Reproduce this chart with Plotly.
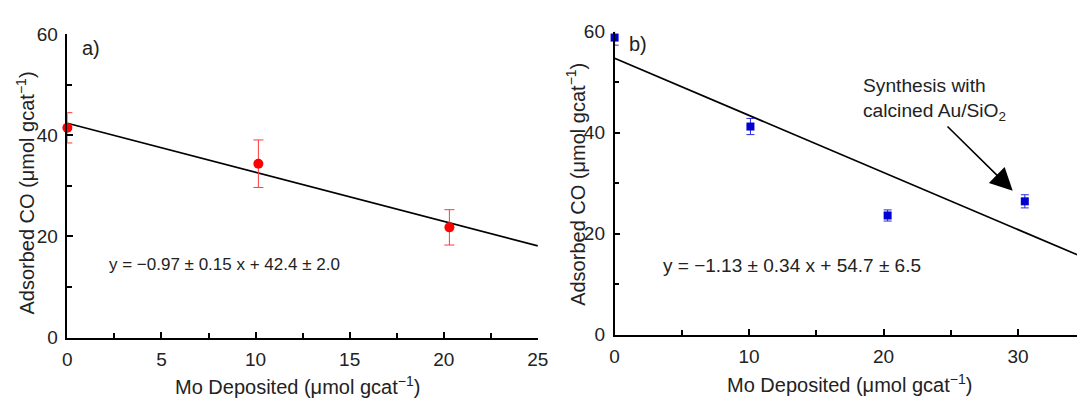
import plotly.graph_objects as go

# ---- data ----
mo_a = [0.0, 10.15, 20.3]
co_a = [41.5, 34.4, 21.8]
err_a = [3.0, 4.7, 3.5]
slope_a, icpt_a = -0.97, 42.4
fit_x_a = [0, 25]

mo_b = [0.0, 10.1, 20.3, 30.5]
co_b = [58.8, 41.2, 23.6, 26.4]
err_b = [1.5, 1.6, 1.1, 1.3]
slope_b, icpt_b = -1.13, 54.7
fit_x_b = [0, 34.4]

eq_a = "y = \u22120.97 \u00b1 0.15 x + 42.4 \u00b1 2.0"
eq_b = "y = \u22121.13 \u00b1 0.34 x + 54.7 \u00b1 6.5"
x_title = "Mo Deposited (\u03bcmol gcat<sup>\u22121</sup>)"
y_title = "Adsorbed CO (\u03bcmol gcat<sup>\u22121</sup>)"

FONT = "Liberation Sans, Arial, Helvetica, sans-serif"
TXT = "#222222"

fig = go.Figure()

# panel a
fig.add_trace(go.Scatter(x=fit_x_a, y=[icpt_a + slope_a * v for v in fit_x_a],
                         mode="lines", line=dict(color="black", width=1.7),
                         xaxis="x", yaxis="y", showlegend=False, cliponaxis=False))
fig.add_trace(go.Scatter(x=mo_a, y=co_a, mode="markers",
                         marker=dict(color="#ff0000", size=10, symbol="circle"),
                         error_y=dict(type="data", array=err_a, color="#ff3b3b",
                                      thickness=1, width=5),
                         xaxis="x", yaxis="y", showlegend=False, cliponaxis=False))

# panel b
fig.add_trace(go.Scatter(x=fit_x_b, y=[icpt_b + slope_b * v for v in fit_x_b],
                         mode="lines", line=dict(color="black", width=1.7),
                         xaxis="x2", yaxis="y2", showlegend=False, cliponaxis=False))
fig.add_trace(go.Scatter(x=mo_b, y=co_b, mode="markers",
                         marker=dict(color="#0000d0", size=8, symbol="square"),
                         error_y=dict(type="data", array=err_b, color="#2a2ae0",
                                      thickness=1, width=4),
                         xaxis="x2", yaxis="y2", showlegend=False, cliponaxis=False))

axis_common = dict(showgrid=False, zeroline=False, showline=True, linecolor="black",
                   linewidth=1.6, ticks="inside", ticklen=6, tickwidth=1.5,
                   tickcolor="black", tickfont=dict(family=FONT, size=19, color=TXT),
                   ticklabelstandoff=4, fixedrange=True)

fig.update_layout(
    width=1088, height=401,
    margin=dict(l=0, r=0, t=0, b=0),
    paper_bgcolor="white", plot_bgcolor="white",
    font=dict(family=FONT, size=19, color=TXT),
    xaxis=dict(domain=[63.3 / 1088, 540.8 / 1088], range=[0, 25], dtick=5, tick0=0,
               minor=dict(dtick=2.5, ticks="inside", ticklen=5, tickwidth=1.5,
                          tickcolor="black"),
               anchor="y", **axis_common),
    yaxis=dict(domain=[(401 - 345.6) / 401, (401 - 25.7) / 401], range=[0, 60],
               dtick=20, tick0=0,
               minor=dict(dtick=10, ticks="inside", ticklen=5, tickwidth=1.5,
                          tickcolor="black"),
               anchor="x", **axis_common),
    xaxis2=dict(domain=[618.7 / 1088, 1.0], range=[0, 34.38], dtick=10, tick0=0,
                minor=dict(dtick=5, ticks="inside", ticklen=5, tickwidth=1.5,
                           tickcolor="black"),
                anchor="y2", **axis_common),
    yaxis2=dict(domain=[(401 - 342.7) / 401, (401 - 22.7) / 401], range=[0, 60],
                dtick=20, tick0=0,
                minor=dict(dtick=10, ticks="inside", ticklen=5, tickwidth=1.5,
                           tickcolor="black"),
                anchor="x2", **axis_common),
)

ann = []
# panel labels
ann.append(dict(x=0.65, y=57.3, xref="x", yref="y", text="a)", showarrow=False,
                xanchor="left", yanchor="middle", font=dict(size=20, family=FONT, color=TXT)))
ann.append(dict(x=0.9, y=57.6, xref="x2", yref="y2", text="b)", showarrow=False,
                xanchor="left", yanchor="middle", font=dict(size=20, family=FONT, color=TXT)))
# equations
ann.append(dict(x=2.1, y=14.4, xref="x", yref="y", text=eq_a, showarrow=False,
                xanchor="left", yanchor="middle", font=dict(size=17, family=FONT, color=TXT)))
ann.append(dict(x=3.45, y=13.8, xref="x2", yref="y2", text=eq_b, showarrow=False,
                xanchor="left", yanchor="middle", font=dict(size=19, family=FONT, color=TXT)))
# callout text + arrow
ann.append(dict(x=18.35, y=46.6, xref="x2", yref="y2",
                text="Synthesis with<br>calcined Au/SiO<sub>2</sub>", showarrow=False,
                xanchor="left", yanchor="middle", align="left",
                font=dict(size=19.2, family=FONT, color=TXT)))
ann.append(dict(x=29.6, y=28.5, xref="x2", yref="y2", ax=24.64, ay=41.5,
                axref="x2", ayref="y2", text="", showarrow=True, arrowhead=2,
                arrowsize=2.8, arrowwidth=1.6, arrowcolor="black"))
# axis titles
ann.append(dict(x=297 / 1088, y=(401 - 388) / 401, xref="paper", yref="paper",
                text=x_title, showarrow=False, xanchor="center", yanchor="middle",
                yshift=-8, font=dict(size=20, family=FONT, color=TXT)))
ann.append(dict(x=857 / 1088, y=(401 - 386) / 401, xref="paper", yref="paper",
                text=x_title, showarrow=False, xanchor="center", yanchor="middle",
                yshift=-8, font=dict(size=20, family=FONT, color=TXT)))
ann.append(dict(x=21 / 1088, y=(401 - 193) / 401, xref="paper", yref="paper",
                text=y_title, showarrow=False, textangle=-90, xanchor="center",
                yanchor="middle", font=dict(size=20, family=FONT, color=TXT)))
ann.append(dict(x=579 / 1088, y=(401 - 184) / 401, xref="paper", yref="paper",
                text=y_title, showarrow=False, textangle=-90, xanchor="center",
                yanchor="middle", font=dict(size=20, family=FONT, color=TXT)))
fig.update_layout(annotations=ann)

fig.write_html("out.html")
